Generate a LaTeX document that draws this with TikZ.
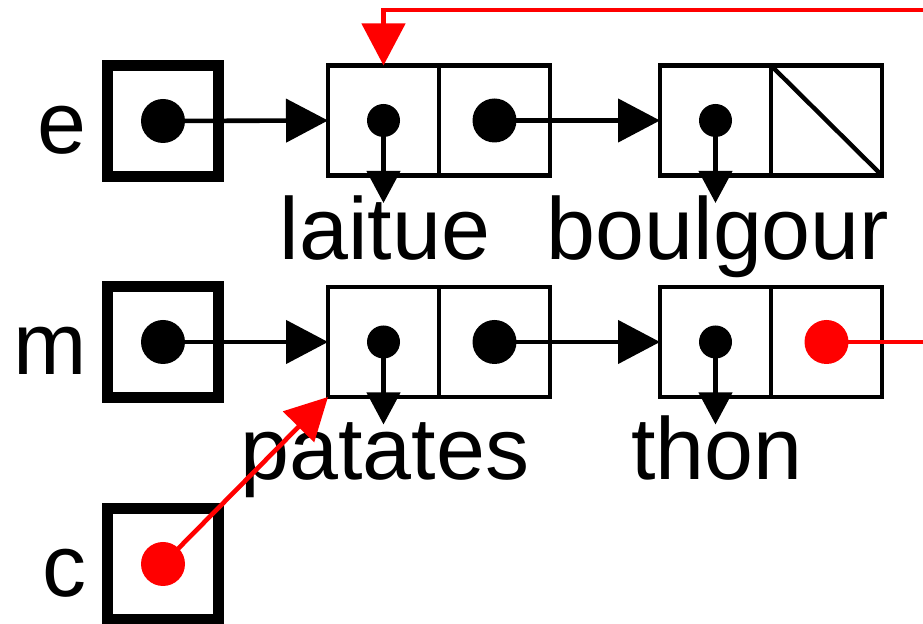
\documentclass[tikz,border=0pt]{standalone}
\usepackage{fontspec}
\setmainfont{Liberation Sans}
\usepackage{xcolor}
\usepackage{tikz}
\usetikzlibrary{arrows.meta, positioning, calc}
\definecolor{ptrred}{HTML}{FF0000}

\begin{document}
\begin{tikzpicture}[x=0.5pt, y=-0.5pt,
    varbox/.style={rectangle, draw, line width=5.5pt, minimum size=55.5pt, inner sep=0pt},
    cellbox/.style={rectangle, draw, line width=2.2pt, minimum width=55.5pt, minimum height=55pt, inner sep=0pt, outer sep=0pt},
    bigdot/.style={circle, fill, minimum size=22pt, inner sep=0pt},
    smalldot/.style={circle, fill, minimum size=16.5pt, inner sep=0pt},
    varname/.style={font=\fontsize{44}{44}\selectfont, anchor=base east, inner sep=0pt},
    valname/.style={font=\fontsize{44}{44}\selectfont, anchor=base, inner sep=0pt},
    arrow/.style={-{Triangle[length=21pt, width=21.5pt]}, line width=2.3pt},
    cararrow/.style={-{Triangle[length=16pt, width=16.5pt]}, line width=2.2pt}
]
\useasboundingbox (0,0) rectangle (923,624);

% Variables
\node[varname] (ename) at (87,154) {e};
\node[varname] (mname) at (87,375) {m};
\node[varname] (cname) at (87,597) {c};
\node[varbox] (evar) at (163,121) {};
\node[varbox] (mvar) at (163,342) {};
\node[varbox] (cvar) at (163,564) {};

% Cells
\node[cellbox] (l1car) at (383.5,120.5) {};
\node[cellbox, right=0pt of l1car] (l1cdr) {};
\node[cellbox] (b2car) at (715.5,120.5) {};
\node[cellbox, right=0pt of b2car] (b2cdr) {};
\node[cellbox] (p1car) at (383.5,342) {};
\node[cellbox, right=0pt of p1car] (p1cdr) {};
\node[cellbox] (t2car) at (715.5,342) {};
\node[cellbox, right=0pt of t2car] (t2cdr) {};
\draw[line width=2.2pt] (b2cdr.north west) -- (b2cdr.south east);

% Values
\node[valname] (laitue) at (385,260) {laitue};
\node[valname] (boulgour) at (718,260) {boulgour};
\node[valname] (patates) at (385,480) {patates};
\node[valname] (thon) at (717,480) {thon};

% Pointers
\draw[arrow] (evar.center) -- (l1car.west);
\draw[arrow] (l1cdr.center) -- (b2car.west);
\draw[arrow] (mvar.center) -- (p1car.west);
\draw[arrow] (p1cdr.center) -- (t2car.west);
\foreach \c in {l1,b2,p1,t2} {
  \coordinate (\c tip) at ($(\c car.south)+(0,27.5)$);
  \draw[cararrow] (\c car.center) -- (\c tip);
  \node[smalldot] (\c dot) at (\c car) {};
}
\node[bigdot] (edot) at (evar) {};
\node[bigdot] (mdot) at (mvar) {};
\node[bigdot] (l1next) at (l1cdr) {};
\node[bigdot] (p1next) at (p1cdr) {};

% Shared tail
\coordinate (wraptop) at (923,10);
\coordinate (wrapout) at (923,342);
\draw[line width=2.3pt, ptrred] (t2cdr.center) -- (wrapout);
\draw[arrow, ptrred] (wraptop) -| (l1car.north);
\draw[arrow, ptrred] (cvar.center) -- (p1car.south west);
\node[bigdot, ptrred] (t2next) at (t2cdr) {};
\node[bigdot, ptrred] (cdot) at (cvar) {};

\end{tikzpicture}
\end{document}
